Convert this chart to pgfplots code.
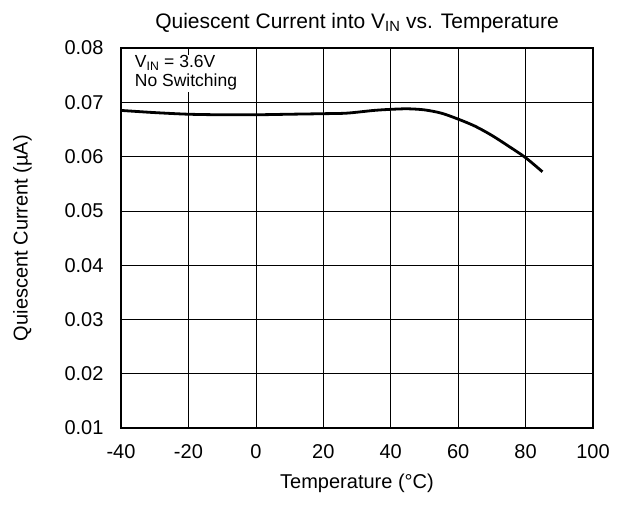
\documentclass[border=0pt]{standalone}
\usepackage{pgfplots}
\pgfplotsset{compat=1.18}
\usepackage{fontspec}
\setmainfont{Liberation Sans}
\begin{document}
\begin{tikzpicture}
\begin{axis}[
  scale only axis,
  width=472pt, height=380pt,
  xmin=-40, xmax=100, ymin=0.01, ymax=0.08,
  xtick={-40,-20,0,20,40,60,80,100},
  ytick={0.01,0.02,0.03,0.04,0.05,0.06,0.07,0.08},
  scaled y ticks=false,
  yticklabel style={/pgf/number format/fixed, /pgf/number format/fixed zerofill, /pgf/number format/precision=2, xshift=-14pt},
  /pgf/number format/assume math mode=true,
  tick label style={font=\fontsize{20}{24}\selectfont},
  label style={font=\fontsize{20}{24}\selectfont},
  title style={font=\fontsize{21}{24}\selectfont, yshift=6pt},
  grid=major,
  major grid style={black, line width=0.7pt},
  axis line style={line width=1.6pt},
  major tick length=0pt,
  xticklabel style={yshift=-13pt},
  xlabel={Temperature (°C)},
  xlabel style={yshift=-8pt},
  ylabel={Quiescent Current (µA)},
  ylabel style={yshift=26pt},
  title={Quiescent Current into V\textsubscript{IN} vs. Temperature},
]
\addplot[black, line width=2.8pt, smooth, tension=0.5] coordinates {
  (-40,0.0685) (-30,0.0681) (-20,0.0678) (-10,0.0677) (0,0.0677)
  (10,0.0678) (20,0.0679) (27,0.0680) (35,0.0685) (40,0.0687)
  (45,0.0688) (50,0.0686) (55,0.0680) (60,0.0669) (65,0.0656)
  (70,0.0639) (75,0.0619) (80,0.0598) (85,0.0572)
};
\node[anchor=north west, align=left, inner sep=1pt, fill=white, font=\fontsize{17.5}{19}\selectfont]
  at (rel axis cs:0.027,0.983) {V\textsubscript{IN} = 3.6V\\No Switching};
\end{axis}
\path (current axis.south west) ++(-121pt,-85pt) rectangle ++(622pt,513pt);
\end{tikzpicture}
\end{document}
